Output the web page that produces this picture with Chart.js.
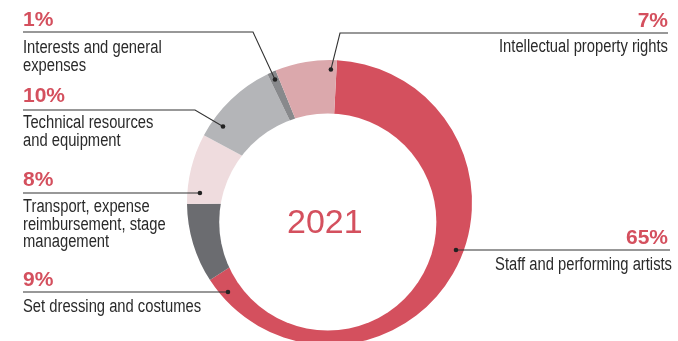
<!DOCTYPE html>
<html>
<head>
<meta charset="utf-8">
<script src="https://cdn.jsdelivr.net/npm/chart.js@4"></script>
<style>
  html, body { margin: 0; padding: 0; background: #fff; width: 678px; height: 341px; overflow: hidden; }
  #wrap { position: absolute; left: 0; top: 0; width: 678px; height: 400px; }
</style>
</head>
<body>
<div id="wrap"><canvas id="chart" width="678" height="400"></canvas></div>
<script>
// data
const categories = [
  "Staff and performing artists",
  "Set dressing and costumes",
  "Transport, expense reimbursement, stage management",
  "Technical resources and equipment",
  "Interests and general expenses",
  "Intellectual property rights"
];
const shares = [65, 9, 8, 10, 1, 7];
const labelLines = [
  ["Staff and performing artists"],
  ["Set dressing and costumes"],
  ["Transport, expense", "reimbursement, stage", "management"],
  ["Technical resources", "and equipment"],
  ["Interests and general", "expenses"],
  ["Intellectual property rights"]
];
const yearLabel = "2021";

const sliceColors = ["#d4505e", "#6b6c70", "#efdcde", "#b4b5b8", "#88898c", "#dba8ac"];
const red = "#d4505e";
const textColor = "#2a2a2a";

// where each callout sits (angle is clockwise from top, r as share of outer radius)
const callouts = [
  { align: "right", x: 668, pctY: 244, lineY: 250, lineFrom: 670, elbow: null, textY: 270, textX: 672, angle: 110.4, r: 0.947 },
  { align: "left", x: 23, pctY: 286, lineY: 292, lineFrom: 23, elbow: null, textY: 312, textX: 23, angle: 228.8, r: 0.947 },
  { align: "left", x: 23, pctY: 186, lineY: 193, lineFrom: 23, elbow: null, textY: 212, textX: 23, angle: 274.4, r: 0.912 },
  { align: "left", x: 23, pctY: 102, lineY: 110, lineFrom: 23, elbow: 195, textY: 128, textX: 23, angle: 305.5, r: 0.918 },
  { align: "left", x: 23, pctY: 26, lineY: 32, lineFrom: 23, elbow: 253, textY: 53, textX: 23, angle: 336.1, r: 0.944 },
  { align: "right", x: 668, pctY: 27, lineY: 33, lineFrom: 668, elbow: 340, textY: 52, textX: 668, angle: 0.6, r: 0.933 }
];
const lineStep = 17.5;

let narrowOk = false;
function checkNarrow(ctx) {
  ctx.save();
  ctx.font = '18px "DejaVu Sans Mono"';
  const a = ctx.measureText("abcdefghijklm").width;
  ctx.font = '18px "Liberation Sans Narrow", "DejaVu Sans Mono"';
  const b = ctx.measureText("abcdefghijklm").width;
  ctx.restore();
  narrowOk = Math.abs(a - b) > 0.5;
}

function drawLabel(ctx, text, x, y, align) {
  ctx.save();
  ctx.textBaseline = "alphabetic";
  ctx.fillStyle = textColor;
  if (narrowOk) {
    ctx.font = '18px "Liberation Sans Narrow"';
    ctx.textAlign = align;
    ctx.fillText(text, x, y);
  } else {
    ctx.font = '18px "Liberation Sans", Arial, sans-serif';
    ctx.textAlign = align;
    ctx.translate(x, y);
    ctx.scale(0.82, 1);
    ctx.fillText(text, 0, 0);
  }
  ctx.restore();
}

const donutExtras = {
  id: "donutExtras",
  afterDatasetsDraw(chart) {
    const ctx = chart.ctx;
    const arc = chart.getDatasetMeta(0).data[0];
    const cx = arc.x, cy = arc.y, R = arc.outerRadius;
    checkNarrow(ctx);

    // offset hole
    const hx = cx - 0.012 * R, hy = cy + 0.137 * R, hr = 0.762 * R;
    ctx.save();
    ctx.fillStyle = "#fff";
    ctx.beginPath();
    ctx.arc(hx, hy, hr, 0, Math.PI * 2);
    ctx.fill();

    ctx.fillStyle = red;
    ctx.font = '34px "Liberation Sans", Arial, sans-serif';
    ctx.textAlign = "center";
    ctx.textBaseline = "alphabetic";
    ctx.fillText(yearLabel, hx - 3, hy + 11);
    ctx.restore();

    // callouts
    callouts.forEach((c, i) => {
      const t = c.angle * Math.PI / 180;
      const dx = cx + c.r * R * Math.sin(t);
      const dy = cy - c.r * R * Math.cos(t);

      ctx.save();
      ctx.strokeStyle = "#333";
      ctx.lineWidth = 1.1;
      ctx.beginPath();
      ctx.moveTo(c.lineFrom, c.lineY);
      if (c.elbow !== null) {
        ctx.lineTo(c.elbow, c.lineY);
        ctx.lineTo(dx, dy);
      } else {
        ctx.lineTo(dx, c.lineY);
      }
      ctx.stroke();
      ctx.fillStyle = "#222";
      ctx.beginPath();
      ctx.arc(dx, c.elbow !== null ? dy : c.lineY, 2.3, 0, Math.PI * 2);
      ctx.fill();

      ctx.fillStyle = red;
      ctx.font = 'bold 21px "Liberation Sans", Arial, sans-serif';
      ctx.textAlign = c.align;
      ctx.textBaseline = "alphabetic";
      ctx.fillText(shares[i] + "%", c.x, c.pctY);
      ctx.restore();

      labelLines[i].forEach((line, k) => {
        drawLabel(ctx, line, c.textX, c.textY + k * lineStep, c.align);
      });
    });
  }
};

new Chart(document.getElementById("chart"), {
  type: "pie",
  data: {
    labels: categories,
    datasets: [{
      data: shares,
      backgroundColor: sliceColors,
      borderWidth: 0
    }]
  },
  options: {
    responsive: false,
    animation: false,
    rotation: 3,
    layout: { padding: { top: 60, bottom: 55, left: 187, right: 206 } },
    plugins: {
      legend: { display: false },
      tooltip: { enabled: false }
    }
  },
  plugins: [donutExtras]
});
</script>
</body>
</html>
